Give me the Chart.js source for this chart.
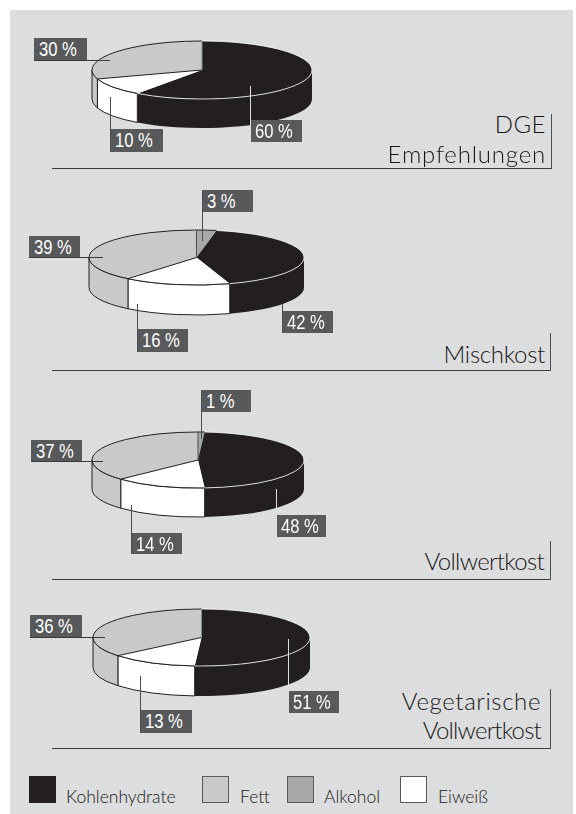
<!DOCTYPE html>
<html>
<head>
<meta charset="utf-8">
<title>Kostformen</title>
<script src="https://cdn.jsdelivr.net/npm/chart.js@4"></script>
<style>
html, body { margin: 0; padding: 0; background: #fff; }
#page { position: relative; width: 576px; height: 814px; overflow: hidden; }
#panel { position: absolute; left: 10px; top: 10px; width: 563px; height: 804px; background: #dcddde; }
#page canvas { position: absolute; }
.box { position: absolute; background: #58595b; color: #fff; font: 20px/1 "Liberation Sans", sans-serif; white-space: nowrap; }
.box span { position: absolute; left: 5px; top: 1px; transform: scaleX(0.83); transform-origin: left top; }
.line { position: absolute; }
.title { position: absolute; color: #1a1718; font: 300 24px/1 Lato, sans-serif; white-space: nowrap; text-align: right; }
.key { position: absolute; width: 27px; height: 27px; box-sizing: border-box; }
.keytext { position: absolute; color: #1a1718; font: 300 17.5px/1 Lato, sans-serif; white-space: nowrap; }
</style>
</head>
<body>
<div id="page"><div id="panel"></div></div>
<script>
// slices in drawing order, clockwise from 12 o'clock
var slices = ["Alkohol", "Kohlenhydrate", "Eiweiß", "Fett"];
var dge = [0, 60, 10, 30];
var mischkost = [3, 42, 16, 39];
var vollwertkost = [1, 48, 14, 37];
var vegetarisch = [0, 51, 13, 36];

var legendNames = ["Kohlenhydrate", "Fett", "Alkohol", "Eiweiß"];
var colors = { "Kohlenhydrate": "#231f20", "Fett": "#c8c9cb", "Alkohol": "#a7a8aa", "Eiweiß": "#ffffff" };

var page = document.getElementById("page");
var GREY = "#58595b", PALE = "#dcddde";

// pie geometry and label boxes per chart. box = [left, top, right, bottom]
// title lines = [text, baseline, right edge, letter spacing]
var pies = [
    { values: dge, cx: 202, cy: 69.5, rx: 110, ry: 29, depth: 29,
      labels: [
        { i: 3, box: [34, 38, 87, 61], h: 110 },
        { i: 2, box: [110, 129, 163, 152], v: 97 },
        { i: 1, box: [250, 120, 302, 142], v: 86, color: PALE }
      ],
      title: [["DGE", 133, 546, 0.5], ["Empfehlungen", 163, 546, 0.8]],
      rule: { y: 168, x: 551, top: 114 } },
    { values: mischkost, cx: 196.5, cy: 257.5, rx: 107.5, ry: 27.5, depth: 30,
      labels: [
        { i: 0, box: [202, 190, 253, 212], v: 241 },
        { i: 3, box: [29, 236, 80, 258], h: 103 },
        { i: 2, box: [137, 329, 188, 352], v: 304 },
        { i: 1, box: [282, 311, 333, 333], v: 304 }
      ],
      title: [["Mischkost", 363, 545, -0.3]],
      rule: { y: 370, x: 550, top: 333 } },
    { values: vollwertkost, cx: 198, cy: 460, rx: 106, ry: 28, depth: 29,
      labels: [
        { i: 0, box: [201, 390, 251, 412], v: 439 },
        { i: 3, box: [31, 440, 82, 462], h: 103 },
        { i: 2, box: [131, 533, 182, 554], v: 505 },
        { i: 1, box: [276, 515, 326, 537], v: 489, color: PALE }
      ],
      title: [["Vollwertkost", 570, 544, -0.7]],
      rule: { y: 579, x: 550, top: 541 } },
    { values: vegetarisch, cx: 201, cy: 637.5, rx: 108.5, ry: 28.5, depth: 30,
      labels: [
        { i: 3, box: [30, 615, 82, 638], h: 105 },
        { i: 2, box: [140, 710, 192, 733], v: 676 },
        { i: 1, box: [288, 691, 339, 713], v: 639, color: PALE }
      ],
      title: [["Vegetarische", 710, 541, 0.6], ["Vollwertkost", 739, 541, -0.8]],
      rule: { y: 748, x: 550, top: 689 } }
];

// squashes the pie into an ellipse and draws the side wall under it
var tiltPlugin = {
    id: "tilt",
    beforeDatasetsDraw: function (chart, args, opts) {
        var ctx = chart.ctx;
        var arcs = chart.getDatasetMeta(0).data;
        var x = arcs[0].x, y = arcs[0].y, r = arcs[0].outerRadius;
        var ry = opts.ry, d = opts.depth;
        arcs.forEach(function (arc, n) {
            var a0 = Math.max(arc.startAngle, 0), a1 = Math.min(arc.endAngle, Math.PI);
            if (a1 <= a0) return;
            ctx.beginPath();
            ctx.ellipse(x, y, r, ry, 0, a0, a1);
            ctx.ellipse(x, y + d, r, ry, 0, a1, a0, true);
            ctx.closePath();
            ctx.fillStyle = colors[slices[n]];
            ctx.fill();
            if (slices[n] != "Kohlenhydrate") {
                ctx.strokeStyle = "#231f20";
                ctx.lineWidth = 1;
                ctx.stroke();
            }
        });
        ctx.save();
        ctx.translate(x, y);
        ctx.scale(1, ry / r);
        ctx.translate(-x, -y);
    },
    afterDatasetsDraw: function (chart, args, opts) {
        var ctx = chart.ctx;
        ctx.restore();
        var arcs = chart.getDatasetMeta(0).data;
        var x = arcs[0].x, y = arcs[0].y, r = arcs[0].outerRadius;
        var ry = opts.ry;
        function spoke(a, color) {
            ctx.beginPath();
            ctx.moveTo(x, y);
            ctx.lineTo(x + r * Math.cos(a), y + ry * Math.sin(a));
            ctx.strokeStyle = color;
            ctx.lineWidth = 1;
            ctx.stroke();
        }
        arcs.forEach(function (arc, n) {
            if (arc.endAngle <= arc.startAngle) return;
            ctx.beginPath();
            ctx.ellipse(x, y, r, ry, 0, arc.startAngle, arc.endAngle);
            ctx.strokeStyle = slices[n] == "Kohlenhydrate" ? "#ffffff" : "#231f20";
            ctx.lineWidth = slices[n] == "Kohlenhydrate" ? 0.8 : 1;
            ctx.stroke();
            if (slices[n] == "Fett") {
                spoke(arc.startAngle, "#231f20");
                spoke(arc.endAngle, arcs[0].endAngle > arcs[0].startAngle ? "#4d4d4f" : "#8a8b8d");
            }
        });
    }
};

function addLine(x, y, w, h, color) {
    var el = document.createElement("div");
    el.className = "line";
    el.style.cssText = "left:" + x + "px;top:" + y + "px;width:" + w + "px;height:" + h + "px;background:" + color;
    page.appendChild(el);
}

pies.forEach(function (p) {
    var pad = 2;
    var size = Math.round(p.rx * 2) + pad * 2;
    var canvas = document.createElement("canvas");
    canvas.width = size;
    canvas.height = size;
    canvas.style.left = (p.cx - size / 2) + "px";
    canvas.style.top = (p.cy - size / 2) + "px";
    canvas.style.width = size + "px";
    canvas.style.height = size + "px";
    page.appendChild(canvas);

    new Chart(canvas, {
        type: "pie",
        data: {
            labels: slices,
            datasets: [{
                data: p.values,
                backgroundColor: slices.map(function (s) { return colors[s]; }),
                borderWidth: 0
            }]
        },
        options: {
            responsive: false,
            animation: false,
            layout: { padding: pad },
            plugins: {
                legend: { display: false },
                tooltip: { enabled: false },
                tilt: { ry: p.ry, depth: p.depth }
            }
        },
        plugins: [tiltPlugin]
    });

    p.labels.forEach(function (l) {
        var b = l.box;
        var box = document.createElement("div");
        box.className = "box";
        box.style.cssText = "left:" + b[0] + "px;top:" + b[1] + "px;width:" + (b[2] - b[0]) + "px;height:" + (b[3] - b[1]) + "px";
        var txt = document.createElement("span");
        txt.textContent = p.values[l.i] + " %";
        box.appendChild(txt);
        page.appendChild(box);
        if (l.h) addLine(b[0], b[3] - 1, l.h - b[0], 1, l.color || "#3a3a3c");
        if (l.v) {
            // leader runs from the slice to the far edge of the box
            var top = Math.min(l.v, b[1]);
            var bottom = Math.max(l.v, b[3]);
            addLine(b[0], top, 1, bottom - top, l.color || "#4d4d4f");
        }
    });

    p.title.forEach(function (t) {
        var el = document.createElement("div");
        el.className = "title";
        el.textContent = t[0];
        el.style.letterSpacing = t[3] + "px";
        el.style.right = (576 - t[2]) + "px";
        el.style.top = (t[1] - 21) + "px";
        page.appendChild(el);
    });
    addLine(52, p.rule.y, p.rule.x - 52 + 1, 1, "#3a3a3c");
    addLine(p.rule.x, p.rule.top, 1, p.rule.y - p.rule.top + 1, "#4d4d4f");
});

// legend
var keyX = [29, 202, 287, 400];
var keyTextX = [66, 240, 324, 438];
legendNames.forEach(function (name, n) {
    var k = document.createElement("div");
    k.className = "key";
    k.style.left = keyX[n] + "px";
    k.style.top = "776px";
    k.style.background = colors[name];
    if (name != "Kohlenhydrate") k.style.border = "1px solid " + GREY;
    page.appendChild(k);
    var t = document.createElement("div");
    t.className = "keytext";
    t.textContent = name;
    t.style.left = keyTextX[n] + "px";
    t.style.top = "788px";
    page.appendChild(t);
});
</script>
</body>
</html>
